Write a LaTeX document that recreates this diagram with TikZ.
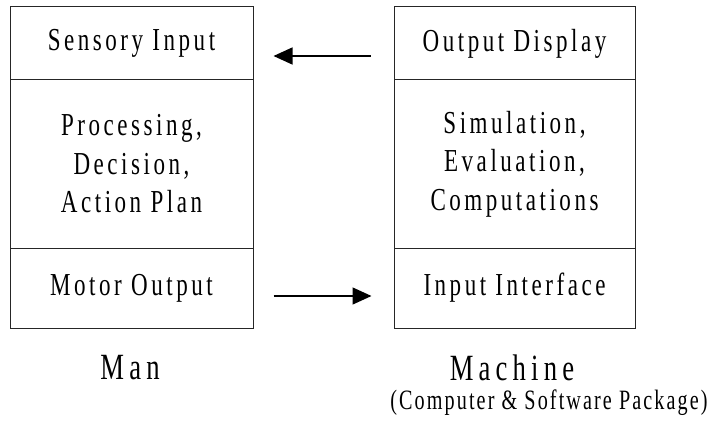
\documentclass[tikz,border=0pt]{standalone}
\usepackage{fontspec}
\newfontfamily\diagfont[FakeStretch=0.72,LetterSpace=11]{Liberation Serif}
\newfontfamily\bigfont[FakeStretch=0.72,LetterSpace=14]{Liberation Serif}
\newfontfamily\subfont[FakeStretch=0.72,LetterSpace=7.5]{Liberation Serif}
\usetikzlibrary{arrows.meta}
\begin{document}
\begin{tikzpicture}[x=1pt,y=-1pt,
  cell/.style={draw=black!85,line width=1pt,rectangle,inner sep=0pt,align=center,
    font=\diagfont\fontsize{32}{38.5}\selectfont},
  lbl/.style={inner sep=0pt,align=center},
  flow/.style={line width=1.4pt,-{Triangle[length=19pt,width=17pt]}}]
\useasboundingbox (0,0) rectangle (725,425);
% left column (Man)
\node[cell,minimum width=243pt,minimum height=73pt] (si) at (131.5,43.5) {Sensory Input};
\node[cell,minimum width=243pt,minimum height=168pt] (pd) at (131.5,164) {Processing,\\Decision,\\Action Plan};
\node[cell,minimum width=243pt,minimum height=80pt] (mo) at (131.5,288) {Motor Output};
% right column (Machine)
\node[cell,minimum width=241pt,minimum height=73pt] (od) at (514.5,43.5) {Output Display};
\node[cell,minimum width=241pt,minimum height=168pt] (se) at (514.5,164) {Simulation,\\Evaluation,\\Computations};
\node[cell,minimum width=241pt,minimum height=80pt] (ii) at (514.5,288) {Input Interface};
% labels
\node[lbl,font=\bigfont\fontsize{37}{40}\selectfont] (man) at (130,368) {Man};
\node[lbl,font=\bigfont\fontsize{37}{40}\selectfont] (mach) at (512,368) {Machine};
\node[lbl,font=\subfont\fontsize{28}{32}\selectfont] (pkg) at (549,403) {(Computer \& Software Package)};
% arrows
\draw[flow,shorten <=23pt,shorten >=20pt] ([yshift=-12.5pt]od.west) -- ([yshift=-12.5pt]si.east);
\draw[flow,shorten <=20pt,shorten >=22pt] ([yshift=-8pt]mo.east) -- ([yshift=-8pt]ii.west);
\end{tikzpicture}
\end{document}
